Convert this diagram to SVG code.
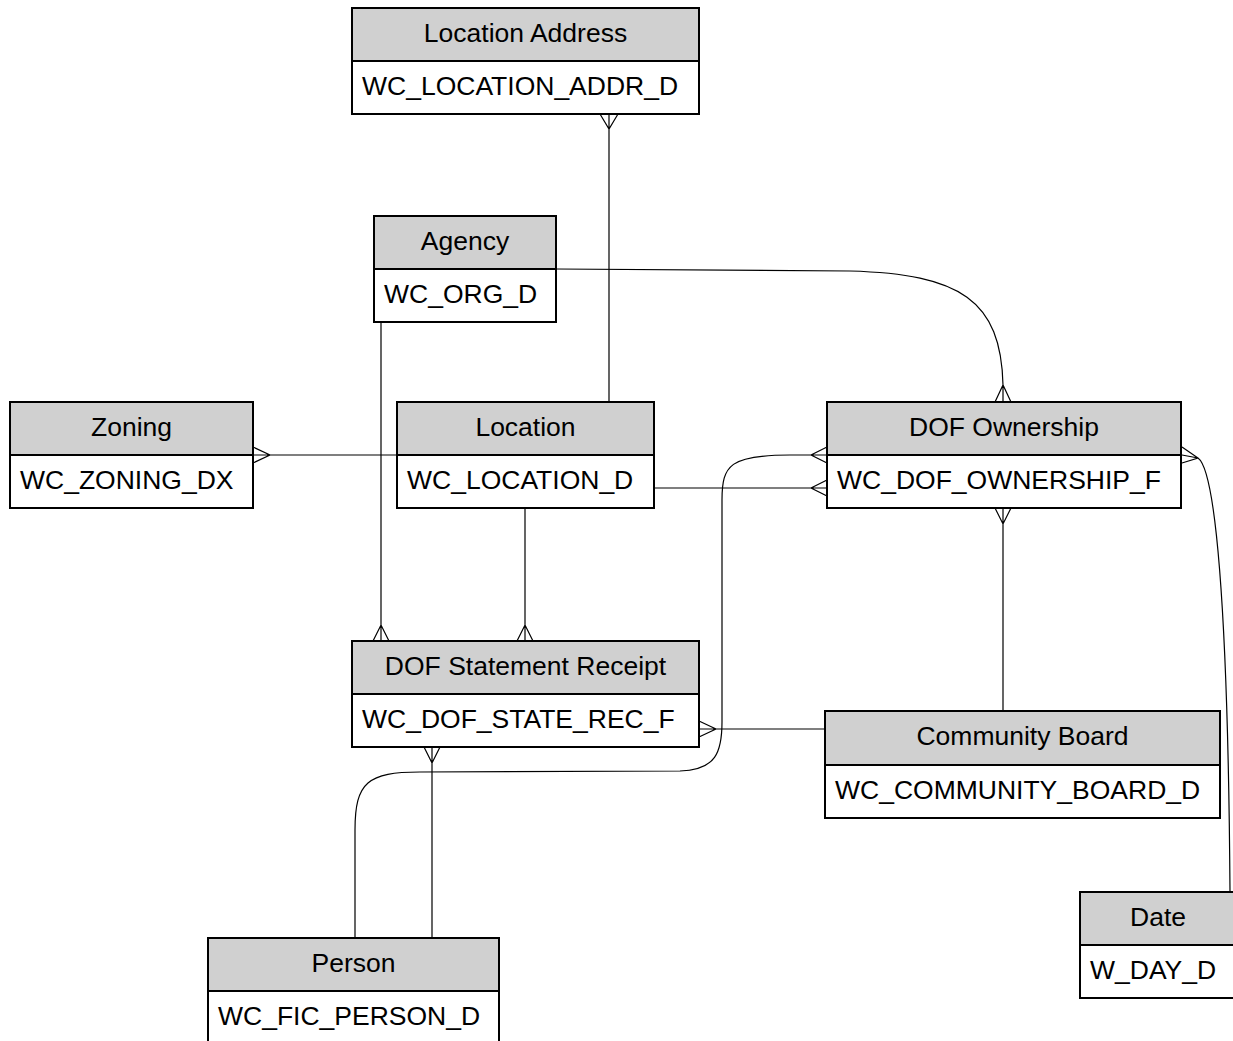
<svg xmlns="http://www.w3.org/2000/svg" width="1233" height="1041" viewBox="0 0 1233 1041">
<style>
.box{fill:#ffffff;stroke:#000;stroke-width:2}
.hdr{fill:#d0d0d0;stroke:#000;stroke-width:2}
.t{font-family:"Liberation Sans",Arial,sans-serif;font-size:26.5px;fill:#000}
.c{text-anchor:middle}
.ln{fill:none;stroke:#000;stroke-width:1.2}
</style>
<rect width="1233" height="1041" fill="#ffffff"/>
<g id="connectors">
  <!-- Location Address - Location -->
  <path class="ln" d="M609,114 L609,402 M600,114 L609,129 L618,114"/>
  <!-- Agency - DOF Ownership -->
  <path class="ln" d="M556,269 L850,271 C960,274 1001,300 1003,385 L1003,402 M995,402 L1003,385 L1011,402"/>
  <!-- Agency - DOF Statement Receipt -->
  <path class="ln" d="M381,322 L381,641 M373,641 L381,625 L389,641"/>
  <!-- Location - Zoning -->
  <path class="ln" d="M253,455 L397,455 M253,447 L270,455 L253,463"/>
  <!-- Location - DOF Statement Receipt -->
  <path class="ln" d="M525,508 L525,641 M517,641 L525,625 L533,641"/>
  <!-- Location - DOF Ownership -->
  <path class="ln" d="M654,488 L827,488 M827,480 L811,488 L827,496"/>
  <!-- Person - DOF Ownership -->
  <path class="ln" d="M355,938 L355,830 C355,782 368,772 420,772 L680,771 C716,770 722,752 722,722 L722,500 C722,465 730,455 790,455 L827,455 M827,447 L811,455 L827,463"/>
  <!-- Person - DOF Statement Receipt -->
  <path class="ln" d="M432,938 L432,747 M424,747 L432,763 L440,747"/>
  <!-- Community Board - DOF Statement Receipt -->
  <path class="ln" d="M699,729 L825,729 M699,721 L716,729 L699,737"/>
  <!-- Community Board - DOF Ownership -->
  <path class="ln" d="M1003,508 L1003,711 M995,508 L1003,524 L1011,508"/>
  <!-- Date - DOF Ownership -->
  <path class="ln" d="M1182,455 L1198,458 C1215,470 1228,600 1230,892 M1182,447 L1198,458 L1182,463"/>
</g>
<g id="location-address">
  <rect class="box" x="352" y="8" width="347" height="106"/>
  <rect class="hdr" x="352" y="8" width="347" height="53"/>
  <text class="t c" x="525.5" y="42">Location Address</text>
  <text class="t" x="362" y="95">WC_LOCATION_ADDR_D</text>
</g>
<g id="agency">
  <rect class="box" x="374" y="216" width="182" height="106"/>
  <rect class="hdr" x="374" y="216" width="182" height="53"/>
  <text class="t c" x="465" y="250">Agency</text>
  <text class="t" x="384" y="303">WC_ORG_D</text>
</g>
<g id="zoning">
  <rect class="box" x="10" y="402" width="243" height="106"/>
  <rect class="hdr" x="10" y="402" width="243" height="53"/>
  <text class="t c" x="131.5" y="436">Zoning</text>
  <text class="t" x="20" y="489">WC_ZONING_DX</text>
</g>
<g id="location">
  <rect class="box" x="397" y="402" width="257" height="106"/>
  <rect class="hdr" x="397" y="402" width="257" height="53"/>
  <text class="t c" x="525.5" y="436">Location</text>
  <text class="t" x="407" y="489">WC_LOCATION_D</text>
</g>
<g id="dof-ownership">
  <rect class="box" x="827" y="402" width="354" height="106"/>
  <rect class="hdr" x="827" y="402" width="354" height="53"/>
  <text class="t c" x="1004" y="436">DOF Ownership</text>
  <text class="t" x="837" y="489">WC_DOF_OWNERSHIP_F</text>
</g>
<g id="dof-statement-receipt">
  <rect class="box" x="352" y="641" width="347" height="106"/>
  <rect class="hdr" x="352" y="641" width="347" height="53"/>
  <text class="t c" x="525.5" y="675">DOF Statement Receipt</text>
  <text class="t" x="362" y="728">WC_DOF_STATE_REC_F</text>
</g>
<g id="community-board">
  <rect class="box" x="825" y="711" width="395" height="107"/>
  <rect class="hdr" x="825" y="711" width="395" height="54"/>
  <text class="t c" x="1022.5" y="745">Community Board</text>
  <text class="t" x="835" y="799">WC_COMMUNITY_BOARD_D</text>
</g>
<g id="date">
  <rect class="box" x="1080" y="892" width="156" height="106"/>
  <rect class="hdr" x="1080" y="892" width="156" height="53"/>
  <text class="t c" x="1158" y="926">Date</text>
  <text class="t" x="1090" y="979">W_DAY_D</text>
</g>
<g id="person">
  <rect class="box" x="208" y="938" width="291" height="106"/>
  <rect class="hdr" x="208" y="938" width="291" height="53"/>
  <text class="t c" x="353.5" y="972">Person</text>
  <text class="t" x="218" y="1025">WC_FIC_PERSON_D</text>
</g>
</svg>
